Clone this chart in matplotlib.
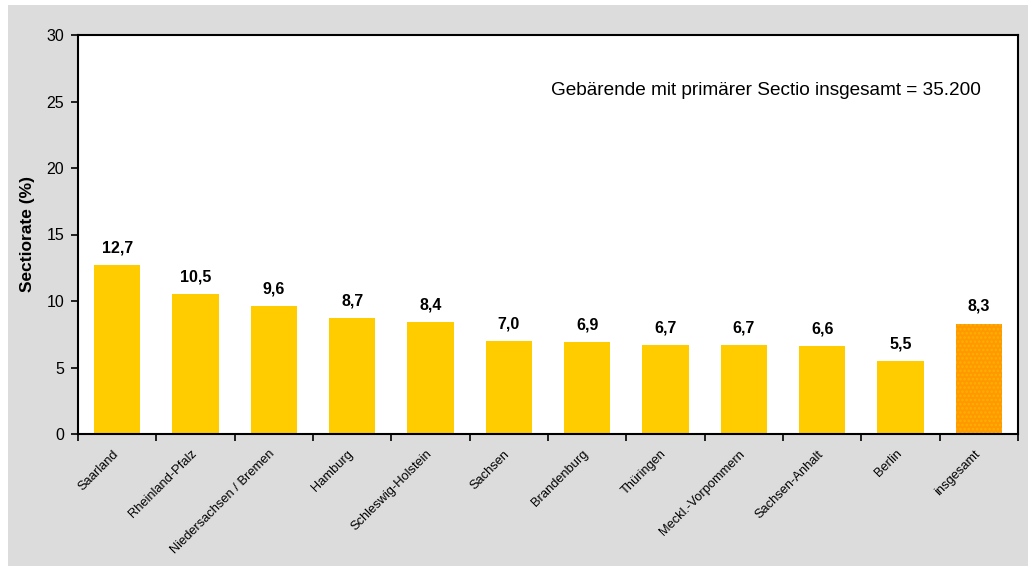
import matplotlib
matplotlib.use("Agg")
import matplotlib.pyplot as plt
from matplotlib.patches import Rectangle
from matplotlib.transforms import ScaledTranslation
import numpy as np

plt.rcParams['font.family'] = ['Liberation Sans', 'DejaVu Sans']
plt.rcParams['hatch.linewidth'] = 1.2

categories = ["Saarland", "Rheinland-Pfalz", "Niedersachsen / Bremen", "Hamburg",
              "Schleswig-Holstein", "Sachsen", "Brandenburg", "Thüringen",
              "Meckl.-Vorpommern", "Sachsen-Anhalt", "Berlin", "insgesamt"]
rates = [12.7, 10.5, 9.6, 8.7, 8.4, 7.0, 6.9, 6.7, 6.7, 6.6, 5.5, 8.3]
y_ticks = [0, 5, 10, 15, 20, 25, 30]
note = "Gebärende mit primärer Sectio insgesamt = 35.200"

W, H = 1028, 566
fig = plt.figure(figsize=(W / 100, H / 100), dpi=100)
fig.patch.set_facecolor('white')
# grey panel behind the chart
fig.patches.append(Rectangle((8 / W, 0), 1 - 8 / W, 1 - 5 / H,
                             transform=fig.transFigure, facecolor='#DCDCDC',
                             edgecolor='none', zorder=-10))

ax = fig.add_axes([78 / W, 1 - 434 / H, (1018 - 78) / W, (434 - 35) / H])
ax.set_facecolor('white')

x = np.arange(len(categories))
bar_w = 0.59
colors = ['#FFCC00'] * (len(categories) - 1)
ax.bar(x[:-1], rates[:-1], width=bar_w, color=colors, edgecolor='none', zorder=2)
# total bar: orange with a fine dotted texture
ax.bar(x[-1], rates[-1], width=bar_w, color='#FF9900', edgecolor='#FFB000',
       linewidth=0, hatch='....', zorder=2)

for xi, v in zip(x, rates):
    ax.annotate(f"{v:.1f}".replace('.', ','), (xi, v), xytext=(0, 7),
                textcoords='offset points', ha='center', va='bottom',
                fontsize=11.5, fontweight='bold', color='black')

ax.set_xlim(-0.5, len(categories) - 0.5)
ax.set_ylim(0, 30)
ax.set_yticks(y_ticks)
ax.set_yticklabels([str(t) for t in y_ticks], fontsize=11.5)
ax.tick_params(axis='y', direction='out', length=5, width=1.2, pad=5)

ax.set_xticks(x)
ax.set_xticklabels(categories, rotation=45, ha='right', rotation_mode='anchor',
                   fontsize=9.3)
ax.tick_params(axis='x', which='major', length=0, pad=10)
ax.set_xticks(np.arange(len(categories) + 1) - 0.5, minor=True)
ax.tick_params(axis='x', which='minor', direction='out', length=5, width=1.2)
shift = ScaledTranslation(-5 / 100, 0, fig.dpi_scale_trans)
for lbl in ax.get_xticklabels():
    lbl.set_transform(lbl.get_transform() + shift)

for s in ax.spines.values():
    s.set_linewidth(1.5)
    s.set_color('black')

ax.set_ylabel("Sectiorate (%)", fontsize=12.5, fontweight='bold', labelpad=8)

ax.text(0.503, 0.862, note, transform=ax.transAxes, ha='left', va='center',
        fontsize=13.7, color='black')

fig.savefig("out.png", dpi=100, facecolor=fig.get_facecolor())
